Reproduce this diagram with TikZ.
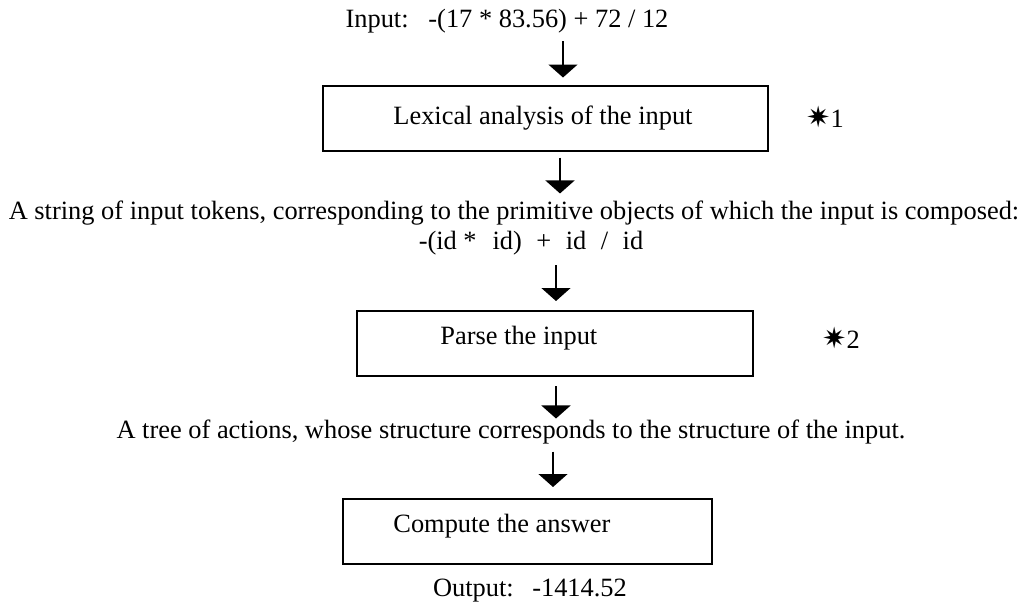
\documentclass[tikz,border=0pt]{standalone}
\usepackage{fontspec}
\setmainfont{Liberation Serif}
\newfontfamily\symfont{DejaVu Sans}
\usetikzlibrary{positioning,arrows.meta,calc}

\begin{document}
\begin{tikzpicture}[x=0.5pt, y=-0.5pt,
    % boxes and arrows of the flow
    stepbox/.style={rectangle, draw=black, line width=1pt, inner sep=0pt,
                    minimum height=32.5pt},
    steptext/.style={anchor=west, inner sep=0pt, font=\fontsize{13.2}{15}\selectfont},
    plaintext/.style={inner sep=0pt, font=\fontsize{13.2}{15}\selectfont},
    flowarrow/.style={-{Triangle[length=6.5pt,width=14.5pt]}, line width=0.75pt},
    starmark/.style={inner sep=0pt, font=\fontsize{13.2}{15}\selectfont}
]
\useasboundingbox (0,0) rectangle (1029,605);

% Input line
\node[plaintext] (input) at (507,21) {Input:\hspace{0.75em}-(17 * 83.56) + 72 / 12};

% Step 1: lexical analysis
\node[stepbox, minimum width=222.5pt] (lex) at (545.5,118) {};
\node[steptext] (lextxt) at (393,118) {Lexical analysis of the input};
\node[starmark] (star1) at (825,117) {{\symfont\fontsize{14.5}{15}\selectfont ✷}1};

% tokens
\node[plaintext] (tokens) at (514,213) {A string of input tokens, corresponding to the primitive objects of which the input is composed:};
\node[plaintext] (idexpr) at (531,243) {-(id *\hspace{0.6em}id)\hspace{0.3em} +\hspace{0.3em} id\hspace{0.3em} /\hspace{0.3em} id};

% Step 2: parsing
\node[stepbox, minimum width=198pt] (parse) at (555,343.5) {};
\node[steptext] (parsetxt) at (440,338) {Parse the input};
\node[starmark] (star2) at (841,338) {{\symfont\fontsize{14.5}{15}\selectfont ✷}2};

% tree of actions
\node[plaintext] (tree) at (511,432) {A tree of actions, whose structure corresponds to the structure of the input.};

% Step 3: compute
\node[stepbox, minimum width=184.5pt] (comp) at (527.5,531.5) {};
\node[steptext] (comptxt) at (393,526) {Compute the answer};

% Output line
\node[plaintext] (output) at (530,591) {Output:\hspace{0.7em}-1414.52};

% arrow columns
\coordinate (c1) at (563,0);
\coordinate (c2) at (560,0);
\coordinate (c3) at (556,0);
\coordinate (c4) at (556,0);
\coordinate (c5) at (553,0);

\draw[flowarrow, shorten <=4pt, shorten >=3.5pt] (input.south -| c1) -- (lex.north -| c1);
\draw[flowarrow, shorten <=3pt, shorten >=3.5pt] (lex.south -| c2) -- (tokens.north -| c2);
\draw[flowarrow, shorten <=5pt, shorten >=4.5pt] (idexpr.south -| c3) -- (parse.north -| c3);
\draw[flowarrow, shorten <=4.5pt, shorten >=0.5pt] (parse.south -| c4) -- (tree.north -| c4);
\draw[flowarrow, shorten <=3.5pt, shorten >=5.5pt] (tree.south -| c5) -- (comp.north -| c5);

\end{tikzpicture}
\end{document}
